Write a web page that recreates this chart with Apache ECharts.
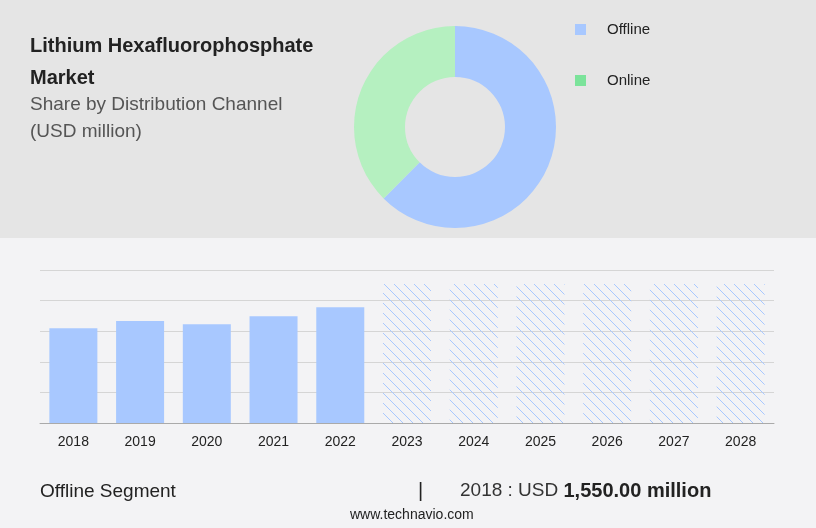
<!DOCTYPE html>
<html><head><meta charset="utf-8">
<script src="https://cdn.jsdelivr.net/npm/echarts@6/dist/echarts.min.js"></script>
<style>body{margin:0}#c{width:816px;height:528px}</style></head>
<body><div id="c"></div>
<script>
const years=['2018','2019','2020','2021','2022','2023','2024','2025','2026','2027','2028'];
const histValues=[1550,1665,1615,1745,1890,null,null,null,null,null,null];
const forecastValues=[null,null,null,null,null,2270,2270,2270,2270,2270,2270];
const shareNames=['Offline','Online'];
const shareValues=[62.5,37.5];
const cv=document.createElement('canvas');cv.width=10;cv.height=10;
const cx=cv.getContext('2d');cx.strokeStyle='#a8c8ff';cx.lineWidth=1;
cx.beginPath();cx.moveTo(-1,-1);cx.lineTo(11,11);cx.stroke();
const ch=echarts.init(document.getElementById('c'));
ch.setOption({
 animation:false,
 graphic:[
  {type:'rect',shape:{x:0,y:0,width:816,height:238},style:{fill:'#e5e5e5'},z:-10},
  {type:'rect',shape:{x:0,y:238,width:816,height:290},style:{fill:'#f3f3f5'},z:-10},
  {type:'text',left:30,top:30,style:{text:'Lithium Hexafluorophosphate\nMarket',font:'bold 20px Arial',fill:'#222',lineHeight:32}},
  {type:'text',left:30,top:91,style:{text:'Share by Distribution Channel\n(USD million)',font:'19px Arial',fill:'#555',lineHeight:27}},
  {type:'text',left:40,top:482,style:{text:'Offline Segment',font:'19px Arial',fill:'#222'}},
  {type:'text',left:418,top:481,style:{text:'|',font:'20px Arial',fill:'#222'}},
  {type:'text',left:460,top:481,style:{rich:{a:{font:'19px Arial',fill:'#333'},b:{font:'bold 20px Arial',fill:'#222'}},text:'{a|2018 : USD }{b|1,550.00 million}'}},
  {type:'text',left:350,top:508,style:{text:'www.technavio.com',font:'14px Arial',fill:'#222'}}
 ],
 legend:{orient:'vertical',left:570,top:17,itemGap:36,itemWidth:11,itemHeight:11,icon:'rect',
  textStyle:{fontSize:15,color:'#222',fontFamily:'Arial',padding:[0,0,0,16]},
  data:[{name:'Offline',itemStyle:{color:'#a8c8ff'}},{name:'Online',itemStyle:{color:'#7be39a'}}]},
 grid:{left:40,right:42,top:270,bottom:105},
 xAxis:{type:'category',data:years,axisTick:{show:false},axisLine:{lineStyle:{color:'#aaa'}},
  axisLabel:{color:'#222',fontSize:14,margin:12,fontFamily:'Arial'}},
 yAxis:{type:'value',min:0,max:2500,interval:500,axisLabel:{show:false},splitLine:{lineStyle:{color:'#d5d5d5'}}},
 series:[
  {type:'pie',radius:[50,101],center:[455,127],startAngle:90,clockwise:true,label:{show:false},
   data:shareNames.map((n,i)=>({name:n,value:shareValues[i],itemStyle:{color:['#a8c8ff','#b5f0c0'][i]}}))},
  {type:'bar',data:histValues,stack:'a',barWidth:48,itemStyle:{color:'#a8c8ff'}},
  {type:'bar',data:forecastValues,stack:'a',barWidth:48,itemStyle:{color:{image:cv,repeat:'repeat'}}}
 ]
});
</script></body></html>
